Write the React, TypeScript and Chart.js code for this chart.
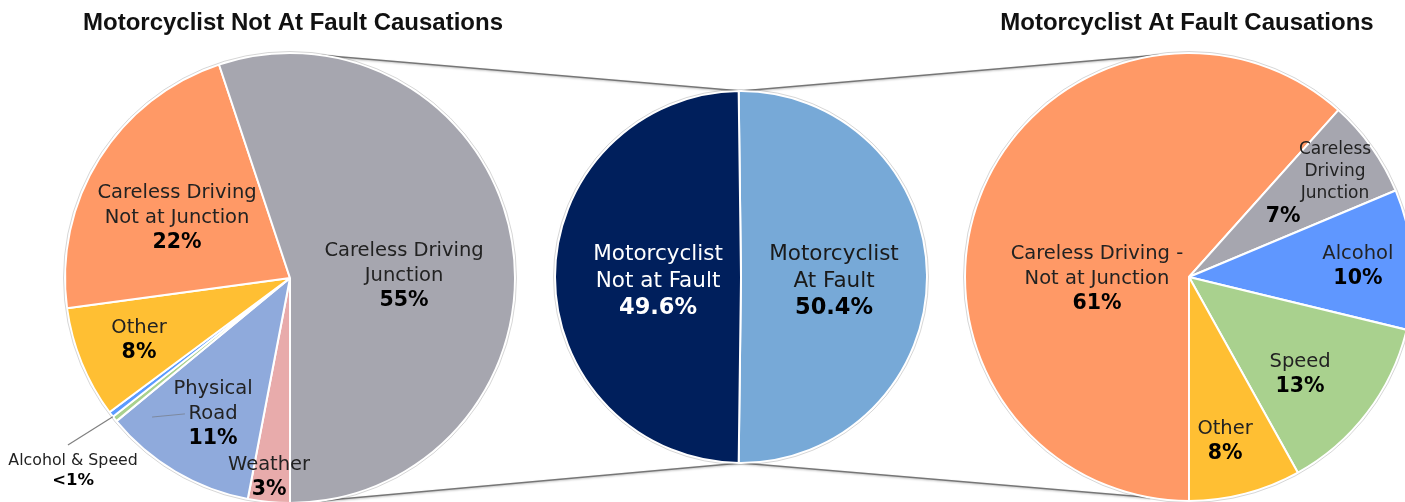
import React, { useEffect, useRef } from "react";
import { Chart, registerables } from "chart.js";

Chart.register(...registerables);

const W = 1405;
const H = 502;

// ---------- Data ----------
// Left pie: Motorcyclist Not At Fault causations (clockwise from the bottom)
const leftCategories = [
  "Weather",
  "Physical Road",
  "Speed",
  "Alcohol",
  "Other",
  "Careless Driving Not at Junction",
  "Careless Driving Junction",
];
const leftValues = [3, 11, 0.4, 0.4, 8, 22, 55];
const leftColors = ["#E8ABAB", "#8FAADC", "#A9D18E", "#5B9BFF", "#FFBF33", "#FF9966", "#A6A6AF"];

// Middle pie: split of all collisions
const middleCategories = ["Motorcyclist At Fault", "Motorcyclist Not at Fault"];
const middleValues = [50.4, 49.6];
const middleColors = ["#77A9D7", "#001F5C"];

// Right pie: Motorcyclist At Fault causations (clockwise from the bottom)
const rightCategories = [
  "Careless Driving - Not at Junction",
  "Careless Driving Junction",
  "Alcohol",
  "Speed",
  "Other",
];
const rightValues = [61, 7, 10, 13, 8];
const rightColors = ["#FF9966", "#A6A6AF", "#5F97FF", "#A9D18E", "#FFBF33"];

const titles = ["Motorcyclist Not At Fault Causations", "Motorcyclist At Fault Causations"];

// ---------- Layout (not data) ----------
const LABEL_FONT = '"DejaVu Sans", Verdana, sans-serif';
const TITLE_FONT = '"Liberation Sans", Arial, sans-serif';

type Spec = {
  idx: number[];
  lines: string[];
  pos: [number, number];
  pctPos?: [number, number];
  size: number;
  pctSize: number;
  lineH: number;
  color: string;
  pctColor: string;
  leader?: [number, number];
  ghost?: [number, number, number, number];
};

const leftSpecs: Spec[] = [
  { idx: [0], lines: ["Weather"], pos: [-0.093, 0.876], size: 19.5, pctSize: 20.5, lineH: 25, color: "#222", pctColor: "#000" },
  { idx: [1], lines: ["Physical", "Road"], pos: [-0.342, 0.596], size: 19.5, pctSize: 20.5, lineH: 25, color: "#222", pctColor: "#000" },
  { idx: [4], lines: ["Other"], pos: [-0.671, 0.267], size: 19.5, pctSize: 20.5, lineH: 25, color: "#222", pctColor: "#000" },
  { idx: [5], lines: ["Careless Driving", "Not at Junction"], pos: [-0.502, -0.276], size: 19.5, pctSize: 20.5, lineH: 25, color: "#222", pctColor: "#000" },
  { idx: [6], lines: ["Careless Driving", "Junction"], pos: [0.507, -0.018], size: 19.5, pctSize: 20.5, lineH: 25, color: "#222", pctColor: "#000" },
  {
    idx: [2, 3], lines: ["Alcohol & Speed"], pos: [-0.964, 0.849], size: 15.8, pctSize: 16.5, lineH: 20,
    color: "#222", pctColor: "#000", leader: [-0.987, 0.742], ghost: [-0.613, 0.618, -0.467, 0.604],
  },
];

const middleSpecs: Spec[] = [
  { idx: [0], lines: ["Motorcyclist", "At Fault"], pos: [0.5, 0.011], size: 21.5, pctSize: 22.5, lineH: 27, color: "#1a1a1a", pctColor: "#000" },
  { idx: [1], lines: ["Motorcyclist", "Not at Fault"], pos: [-0.446, 0.011], size: 21.5, pctSize: 22.5, lineH: 27, color: "#ffffff", pctColor: "#ffffff" },
];

const rightSpecs: Spec[] = [
  { idx: [0], lines: ["Careless Driving -", "Not at Junction"], pos: [-0.411, 0], size: 19.5, pctSize: 20.5, lineH: 25, color: "#222", pctColor: "#000" },
  { idx: [1], lines: ["Careless", "Driving", "Junction"], pos: [0.652, -0.478], pctPos: [0.42, -0.277], size: 17, pctSize: 20.5, lineH: 22, color: "#222", pctColor: "#000" },
  { idx: [2], lines: ["Alcohol"], pos: [0.754, -0.056], size: 19.5, pctSize: 20.5, lineH: 25, color: "#222", pctColor: "#000" },
  { idx: [3], lines: ["Speed"], pos: [0.496, 0.426], size: 19.5, pctSize: 20.5, lineH: 25, color: "#222", pctColor: "#000" },
  { idx: [4], lines: ["Other"], pos: [0.161, 0.725], size: 19.5, pctSize: 20.5, lineH: 25, color: "#222", pctColor: "#000" },
];

const fmtWhole = (v: number) => (v < 1 ? "<1%" : `${Math.round(v)}%`);
const fmtOne = (v: number) => `${v.toFixed(1)}%`;

function drawLines(ctx: CanvasRenderingContext2D, x: number, y: number, items: { text: string; size: number; bold: boolean; color: string }[], lineH: number) {
  const n = items.length;
  items.forEach((it, i) => {
    const ly = y + (i - (n - 1) / 2) * lineH;
    ctx.font = `${it.bold ? "bold " : ""}${it.size}px ${LABEL_FONT}`;
    ctx.fillStyle = it.color;
    ctx.fillText(it.text, x, ly + 0.36 * it.size);
  });
}

function makeLabelPlugin(id: string, specs: Spec[], fmt: (v: number) => string, title?: string, titleDx = 0) {
  return {
    id,
    afterDatasetsDraw(chart: any) {
      const ctx: CanvasRenderingContext2D = chart.ctx;
      const meta = chart.getDatasetMeta(0);
      const values: number[] = chart.data.datasets[0].data;
      const a0 = meta.data[0];
      const cx = a0.x;
      const cy = a0.y;
      const r = a0.outerRadius;
      ctx.save();
      // faint rim
      ctx.beginPath();
      ctx.arc(cx, cy, r + 1.5, 0, Math.PI * 2);
      ctx.strokeStyle = "rgba(0,0,0,0.16)";
      ctx.lineWidth = 1;
      ctx.stroke();

      ctx.textAlign = "center";
      ctx.textBaseline = "alphabetic";
      for (const s of specs) {
        const total = s.idx.reduce((acc, i) => acc + values[i], 0);
        const pct = fmt(total);
        const x = cx + s.pos[0] * r;
        const y = cy + s.pos[1] * r;
        const names = s.lines.map((t) => ({ text: t, size: s.size, bold: false, color: s.color }));
        if (s.pctPos) {
          drawLines(ctx, x, y, names, s.lineH);
          drawLines(ctx, cx + s.pctPos[0] * r, cy + s.pctPos[1] * r, [{ text: pct, size: s.pctSize, bold: true, color: s.pctColor }], s.lineH);
        } else {
          drawLines(ctx, x, y, [...names, { text: pct, size: s.pctSize, bold: true, color: s.pctColor }], s.lineH);
        }
        if (s.leader) {
          const first = meta.data[s.idx[0]];
          const last = meta.data[s.idx[s.idx.length - 1]];
          const mid = (first.startAngle + last.endAngle) / 2;
          ctx.beginPath();
          ctx.moveTo(cx + Math.cos(mid) * r, cy + Math.sin(mid) * r);
          ctx.lineTo(cx + s.leader[0] * r, cy + s.leader[1] * r);
          ctx.strokeStyle = "#7f7f7f";
          ctx.lineWidth = 1.2;
          ctx.stroke();
        }
        if (s.ghost) {
          ctx.beginPath();
          ctx.moveTo(cx + s.ghost[0] * r, cy + s.ghost[1] * r);
          ctx.lineTo(cx + s.ghost[2] * r, cy + s.ghost[3] * r);
          ctx.strokeStyle = "rgba(110,110,110,0.55)";
          ctx.lineWidth = 1;
          ctx.stroke();
        }
      }
      if (title) {
        ctx.font = `bold 24px ${TITLE_FONT}`;
        ctx.fillStyle = "#111";
        ctx.fillText(title, cx + titleDx, 30);
      }
      ctx.restore();
    },
  };
}

function makePie(
  canvas: HTMLCanvasElement,
  labels: string[],
  values: number[],
  colors: string[],
  center: [number, number],
  radius: number,
  rotation: number,
  plugin: any
) {
  const [cx, cy] = center;
  return new Chart(canvas, {
    type: "pie",
    data: {
      labels,
      datasets: [
        {
          data: values,
          backgroundColor: colors,
          borderColor: "#ffffff",
          borderWidth: 2,
          clip: false as any,
          radius,
        } as any,
      ],
    },
    options: {
      responsive: false,
      animation: false,
      events: [],
      rotation,
      radius,
      layout: { padding: { left: cx - 50, right: W - cx - 50, top: cy - 50, bottom: H - cy - 50 } },
      plugins: { legend: { display: false }, tooltip: { enabled: false }, title: { display: false } },
    } as any,
    plugins: [plugin],
  });
}

function geom(c: Chart) {
  const a: any = c.getDatasetMeta(0).data[0];
  return { x: a.x as number, y: a.y as number, r: a.outerRadius as number };
}

function polar(g: { x: number; y: number; r: number }, deg: number) {
  const t = (deg * Math.PI) / 180;
  return [g.x + g.r * Math.sin(t), g.y - g.r * Math.cos(t)];
}

function drawConnectors(canvas: HTMLCanvasElement, left: Chart, mid: Chart, right: Chart) {
  const ctx = canvas.getContext("2d")!;
  ctx.clearRect(0, 0, W, H);
  const gl = geom(left);
  const gm = geom(mid);
  const gr = geom(right);
  const segs = [
    [polar(gl, 8), polar(gm, 0)],
    [polar(gl, 172), polar(gm, 180)],
    [polar(gm, 0), polar(gr, -7)],
    [polar(gm, 180), polar(gr, 190)],
  ];
  ctx.save();
  ctx.strokeStyle = "#767676";
  ctx.lineWidth = 1.5;
  ctx.shadowColor = "rgba(0,0,0,0.25)";
  ctx.shadowBlur = 2;
  ctx.shadowOffsetY = 1;
  for (const [a, b] of segs) {
    ctx.beginPath();
    ctx.moveTo(a[0], a[1]);
    ctx.lineTo(b[0], b[1]);
    ctx.stroke();
  }
  ctx.restore();
}

export default function App() {
  const lineRef = useRef<HTMLCanvasElement>(null);
  const leftRef = useRef<HTMLCanvasElement>(null);
  const midRef = useRef<HTMLCanvasElement>(null);
  const rightRef = useRef<HTMLCanvasElement>(null);

  useEffect(() => {
    document.body.style.margin = "0";
    const left = makePie(
      leftRef.current!, leftCategories, leftValues, leftColors, [290, 278], 225, 180,
      makeLabelPlugin("leftLabels", leftSpecs, fmtWhole, titles[0], 3)
    );
    const mid = makePie(
      midRef.current!, middleCategories, middleValues, middleColors, [741, 277], 186,
      -((middleValues[0] - middleValues[1]) / 2) * 1.8,
      makeLabelPlugin("midLabels", middleSpecs, fmtOne)
    );
    const right = makePie(
      rightRef.current!, rightCategories, rightValues, rightColors, [1189, 277], 224, 180,
      makeLabelPlugin("rightLabels", rightSpecs, fmtWhole, titles[1], -2)
    );
    drawConnectors(lineRef.current!, left, mid, right);
    return () => {
      left.destroy();
      mid.destroy();
      right.destroy();
    };
  }, []);

  const abs: React.CSSProperties = { position: "absolute", left: 0, top: 0, width: W, height: H };
  return (
    <div style={{ position: "relative", width: W, height: H, background: "#fff", overflow: "hidden" }}>
      <canvas ref={lineRef} width={W} height={H} style={abs} />
      <canvas ref={leftRef} width={W} height={H} style={abs} />
      <canvas ref={midRef} width={W} height={H} style={abs} />
      <canvas ref={rightRef} width={W} height={H} style={abs} />
    </div>
  );
}
